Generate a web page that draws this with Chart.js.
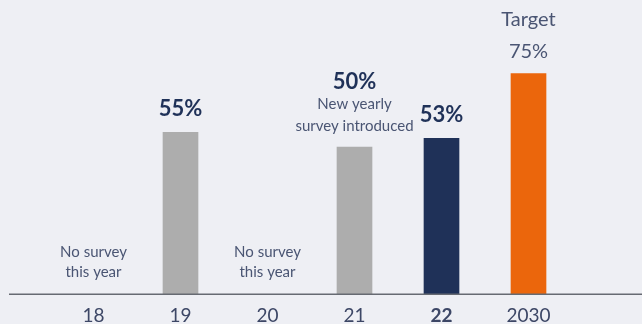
<!DOCTYPE html>
<html>
<head>
<meta charset="utf-8">
<script src="https://cdn.jsdelivr.net/npm/chart.js@4"></script>
<style>
  html, body { margin: 0; padding: 0; background: #eeeff4; }
  #wrap { width: 642px; height: 324px; }
</style>
</head>
<body>
<div id="wrap"><canvas id="myChart"></canvas></div>
<script>
const years = ['18', '19', '20', '21', '22', '2030'];
const values = [null, 55, null, 50, 53, 75];
const barColors = ['#adadad', '#adadad', '#adadad', '#adadad', '#1f3158', '#eb660c'];
const valueLabels = ['', '55%', '', '50%', '53%', '75%'];
const notesAbove = [[], [], [], ['New yearly', 'survey introduced'], [], []];
const notesBase = [['No survey', 'this year'], [], ['No survey', 'this year'], [], [], []];

const navy = '#1f3158';
const grey = '#4a5573';

// labels drawn above bars and on empty categories
const labelPlugin = {
    id: 'labels',
    afterDatasetsDraw(chart) {
        const ctx = chart.ctx;
        const xs = chart.scales.x, ys = chart.scales.y;
        ctx.save();
        ctx.textAlign = 'center';
        ctx.textBaseline = 'middle';
        years.forEach((y, i) => {
            const x = xs.getPixelForValue(i);
            const v = values[i];
            if (v !== null) {
                const top = ys.getPixelForValue(v);
                let cy = top - 21;
                const notes = notesAbove[i];
                for (let k = notes.length - 1; k >= 0; k--) {
                    ctx.font = '15px Lato';
                    ctx.fillStyle = grey;
                    ctx.fillText(notes[k], x, cy);
                    cy -= 22;
                }
                if (y === '2030') {
                    ctx.font = '20px Lato';
                    ctx.fillStyle = grey;
                    ctx.fillText(valueLabels[i], x, top - 22);
                    ctx.fillText('Target', x, top - 54);
                } else {
                    ctx.font = 'bold 22px Lato';
                    ctx.fillStyle = navy;
                    ctx.fillText(valueLabels[i], x, notes.length ? cy : top - 23);
                }
            } else {
                const base = ys.getPixelForValue(0);
                ctx.font = '15px Lato';
                ctx.fillStyle = grey;
                ctx.fillText(notesBase[i][0], x, base - 42);
                ctx.fillText(notesBase[i][1], x, base - 22);
            }
        });
        // baseline across the full width
        const by = ys.getPixelForValue(0);
        ctx.strokeStyle = '#666a72';
        ctx.lineWidth = 1.5;
        ctx.beginPath();
        ctx.moveTo(9, by);
        ctx.lineTo(chart.width, by);
        ctx.stroke();
        ctx.restore();
    }
};

new Chart(document.getElementById('myChart'), {
    type: 'bar',
    data: {
        labels: years,
        datasets: [{
            data: values,
            backgroundColor: barColors,
            barThickness: 35
        }]
    },
    options: {
        responsive: true,
        maintainAspectRatio: false,
        animation: false,
        layout: { padding: { left: 50, right: 70, top: 0, bottom: -5 } },
        plugins: { legend: { display: false }, tooltip: { enabled: false } },
        scales: {
            y: {
                display: false,
                min: 0,
                max: 100
            },
            x: {
                grid: { display: false },
                border: { display: false },
                ticks: {
                    color: '#3d4766',
                    padding: 2,
                    font: (c) => ({
                        family: 'Lato',
                        size: 19,
                        weight: c.index === 4 ? 'bold' : 'normal'
                    })
                }
            }
        }
    },
    plugins: [labelPlugin]
});
</script>
</body>
</html>
